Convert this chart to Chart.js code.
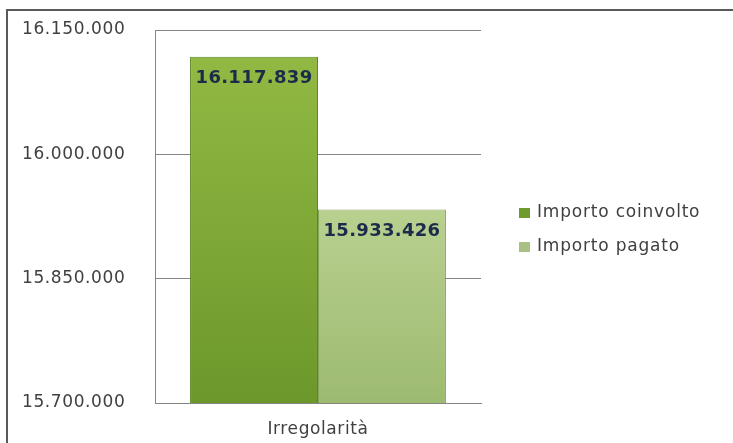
<!DOCTYPE html>
<html lang="it">
<head>
<meta charset="utf-8">
<title>Irregolarità</title>
<script src="https://cdn.jsdelivr.net/npm/chart.js@4/dist/chart.umd.min.js"></script>
<style>
  html, body { margin: 0; padding: 0; background: #fff; }
  #wrap { position: relative; width: 733px; height: 443px; }
</style>
</head>
<body>
<div id="wrap"><canvas id="irregChart"></canvas></div>
<script>
const categories = ['Irregolarità'];
const seriesNames = ['Importo coinvolto', 'Importo pagato'];
const importoCoinvolto = [16117839];
const importoPagato = [15933426];
const yTicks = [15700000, 15850000, 16000000, 16150000];

const TEXT = '#404040';
const LABEL = '#1c2b4a';
const GRID = '#858585';

Chart.defaults.font.family = '"DejaVu Sans", sans-serif';
Chart.defaults.color = TEXT;

function formatIt(value) {
  return String(Math.round(value)).replace(/\B(?=(\d{3})+(?!\d))/g, '.');
}

function barGradient(top, bottom) {
  return (context) => {
    const area = context.chart.chartArea;
    if (!area) return bottom;
    const g = context.chart.ctx.createLinearGradient(0, area.top, 0, area.bottom);
    g.addColorStop(0, top);
    g.addColorStop(1, bottom);
    return g;
  };
}

// outer frame + value labels + legend drawn by hand so spacing matches
const decorations = {
  id: 'decorations',
  beforeDraw(chart) {
    // the original font is a little wider, small tracking on axis text
    chart.ctx.letterSpacing = '0.6px';
  },
  afterDraw(chart) {
    const { ctx } = chart;
    ctx.save();
    ctx.strokeStyle = '#5a5a5a';
    ctx.lineWidth = 2;
    ctx.strokeRect(7, 10, 800, 500);

    ctx.letterSpacing = '0.3px';
    ctx.font = 'bold 18px "DejaVu Sans", sans-serif';
    ctx.fillStyle = LABEL;
    ctx.textAlign = 'center';
    ctx.textBaseline = 'middle';
    chart.data.datasets.forEach((ds, i) => {
      chart.getDatasetMeta(i).data.forEach((bar, j) => {
        ctx.fillText(formatIt(ds.data[j]), bar.x, bar.y + 22);
      });
    });

    const legendX = 519;
    const legendY = [213, 247];
    ctx.letterSpacing = '0.8px';
    ctx.font = '17px "DejaVu Sans", sans-serif';
    ctx.textAlign = 'left';
    chart.data.datasets.forEach((ds, i) => {
      ctx.fillStyle = ds.legendColor;
      ctx.fillRect(legendX, legendY[i] - 5, 11, 10);
      ctx.fillStyle = TEXT;
      ctx.fillText(ds.label, legendX + 18, legendY[i]);
    });
    ctx.restore();
  }
};

new Chart(document.getElementById('irregChart'), {
  type: 'bar',
  data: {
    labels: categories,
    datasets: [
      {
        label: seriesNames[0],
        data: importoCoinvolto,
        backgroundColor: barGradient('#94bb45', '#6c982b'),
        borderColor: '#5e8723',
        borderWidth: 1,
        legendColor: '#6f9a2c'
      },
      {
        label: seriesNames[1],
        data: importoPagato,
        backgroundColor: barGradient('#d3e4ad', '#9dbb70'),
        borderColor: '#86a35c',
        borderWidth: 1,
        legendColor: '#a9c083'
      }
    ]
  },
  options: {
    responsive: true,
    maintainAspectRatio: false,
    animation: false,
    layout: { padding: { left: 22, top: 30, right: 252, bottom: 0 } },
    datasets: {
      bar: { barPercentage: 1, categoryPercentage: 0.785 }
    },
    plugins: {
      legend: { display: false },
      tooltip: { enabled: false }
    },
    scales: {
      x: {
        grid: { display: false, drawTicks: false },
        border: { display: true, color: GRID, width: 1 },
        ticks: { color: TEXT, font: { size: 17 }, padding: 16 },
        afterFit: (axis) => { axis.height = 40; }
      },
      y: {
        min: yTicks[0],
        max: yTicks[yTicks.length - 1],
        afterBuildTicks: (axis) => { axis.ticks = yTicks.map((v) => ({ value: v })); },
        grid: { color: GRID, drawTicks: false },
        border: { display: true, color: GRID, width: 1 },
        ticks: {
          color: TEXT,
          font: { size: 17 },
          crossAlign: 'far',
          callback: (value) => formatIt(value)
        },
        afterFit: (axis) => { axis.width = 133; }
      }
    }
  },
  plugins: [decorations]
});
</script>
</body>
</html>
